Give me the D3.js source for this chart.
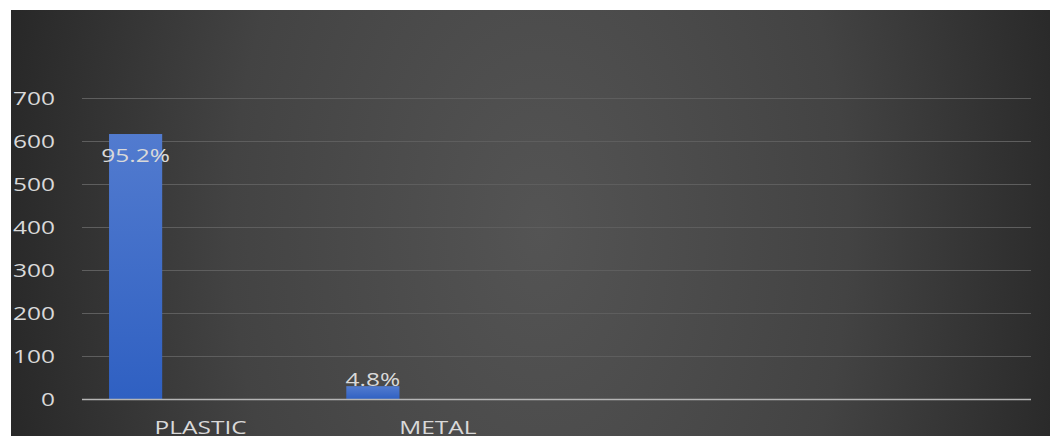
<!DOCTYPE html>
<html>
<head>
<meta charset="utf-8">
<script src="https://cdn.jsdelivr.net/npm/d3@7"></script>
<style>
  html, body { margin: 0; padding: 0; background: #ffffff; }
  svg { display: block; }
</style>
</head>
<body>
<svg id="chart" width="1054" height="436"></svg>
<script>
// ---- data ----
const categories = ["PLASTIC", "METAL", "", " "];
const values = [617, 31, null, null];
const percentLabels = ["95.2%", "4.8%", "", ""];
const yTicks = [0, 100, 200, 300, 400, 500, 600, 700];

// ---- layout ----
const bg = { x: 11, y: 10, w: 1039, h: 426 };
const plot = { left: 82, right: 1031, top: 98.3, bottom: 399.5 };
const stretch = "scale(1.4,1)";

const svg = d3.select("#chart");
const defs = svg.append("defs");

const rg = defs.append("radialGradient")
  .attr("id", "bgGrad")
  .attr("gradientUnits", "userSpaceOnUse")
  .attr("cx", 540).attr("cy", 230).attr("r", 560)
  .attr("gradientTransform", "translate(540,230) scale(1,1.6) translate(-540,-230)");
rg.append("stop").attr("offset", "0%").attr("stop-color", "#545454");
rg.append("stop").attr("offset", "55%").attr("stop-color", "#434343");
rg.append("stop").attr("offset", "100%").attr("stop-color", "#262626");

const bgr = defs.append("linearGradient")
  .attr("id", "barGrad").attr("x1", 0).attr("y1", 0).attr("x2", 0).attr("y2", 1);
bgr.append("stop").attr("offset", "0%").attr("stop-color", "#527bcf");
bgr.append("stop").attr("offset", "100%").attr("stop-color", "#2f60c2");

svg.append("rect")
  .attr("x", bg.x).attr("y", bg.y).attr("width", bg.w).attr("height", bg.h)
  .attr("fill", "url(#bgGrad)");

const x = d3.scaleBand().domain(categories)
  .range([plot.left, plot.right]).paddingInner(0).paddingOuter(0);
const y = d3.scaleLinear().domain([0, 700]).range([plot.bottom, plot.top]);

const font = "'Open Sans', 'Noto Sans', sans-serif";
const textColor = "#d9d9d9";

// gridlines
svg.append("g")
  .selectAll("line")
  .data(yTicks.filter(d => d > 0))
  .join("line")
  .attr("x1", plot.left).attr("x2", plot.right)
  .attr("y1", d => Math.round(y(d)) + 0.5).attr("y2", d => Math.round(y(d)) + 0.5)
  .attr("stroke", "#5e5e5e").attr("stroke-width", 1.2);

// y axis labels
const yAxis = d3.axisLeft(y).tickValues(yTicks).tickSize(0).tickPadding(0);
const yg = svg.append("g").attr("transform", `translate(55,0)`).call(yAxis);
yg.select(".domain").remove();
yg.selectAll("text")
  .attr("fill", textColor)
  .attr("font-family", font)
  .attr("font-size", "17.5px")
  .attr("dy", "0.36em")
  .attr("transform", stretch);

// bars
const bw = x.bandwidth();
const barOffset = bw * 0.114;
const barWidth = bw * 0.224;
svg.append("g")
  .selectAll("rect")
  .data(categories.map((c, i) => ({ c, v: values[i] })).filter(d => d.v != null))
  .join("rect")
  .attr("x", d => x(d.c) + barOffset)
  .attr("y", d => y(d.v))
  .attr("width", barWidth)
  .attr("height", d => y(0) - y(d.v))
  .attr("fill", "url(#barGrad)");

// baseline
svg.append("line")
  .attr("x1", plot.left).attr("x2", plot.right)
  .attr("y1", y(0)).attr("y2", y(0))
  .attr("stroke", "#b5b5b5").attr("stroke-width", 1.6);

// x axis labels
const xAxis = d3.axisBottom(x).tickSize(0).tickPadding(0);
const xg = svg.append("g").attr("transform", `translate(0,${y(0)})`).call(xAxis);
xg.select(".domain").remove();
xg.selectAll("text")
  .attr("fill", textColor)
  .attr("font-family", font)
  .attr("font-size", "17.5px")
  .attr("dy", "1.97em")
  .attr("transform", stretch);

// data labels
svg.append("g")
  .selectAll("g")
  .data(categories.map((c, i) => ({ c, v: values[i], t: percentLabels[i] })).filter(d => d.v != null))
  .join("g")
  .attr("transform", d => {
    const cx = x(d.c) + barOffset + barWidth / 2;
    const cy = (y(0) - y(d.v)) > 40 ? y(d.v) + 28 : y(d.v) - 0.5;
    return `translate(${cx},${cy}) ${stretch}`;
  })
  .append("text")
  .attr("text-anchor", "middle")
  .attr("fill", textColor)
  .attr("font-family", font)
  .attr("font-size", "17.5px")
  .text(d => d.t);
</script>
</body>
</html>
